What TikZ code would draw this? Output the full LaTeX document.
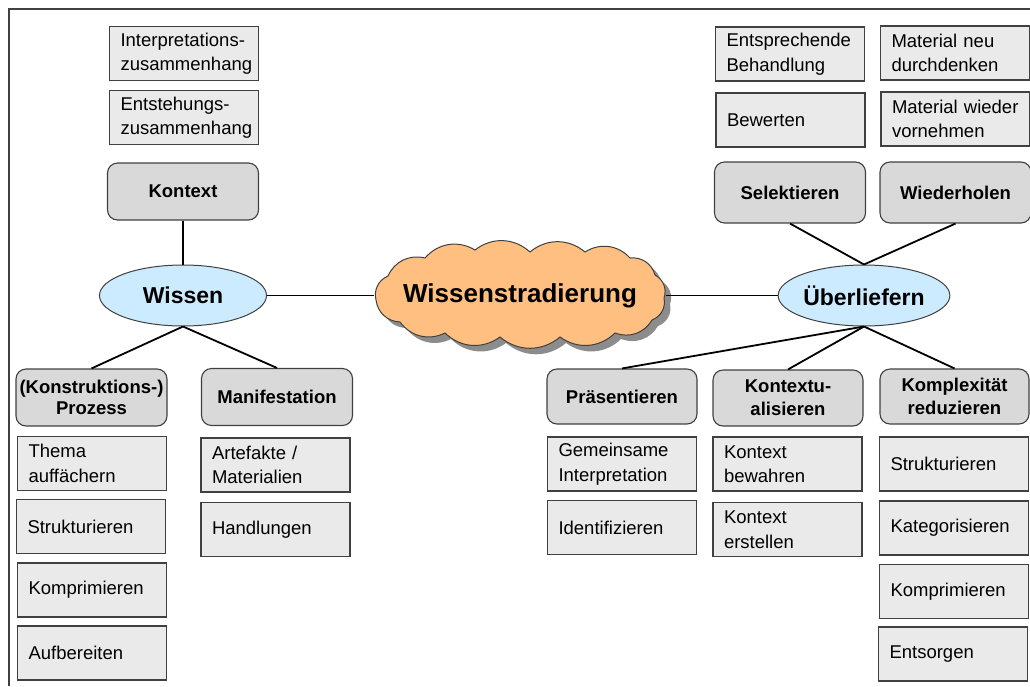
\documentclass[tikz,border=0pt]{standalone}
\usepackage{fontspec}
\setmainfont{Liberation Sans}
\usetikzlibrary{shapes.geometric}
\definecolor{leaffill}{HTML}{EAEAEA}
\definecolor{catfill}{HTML}{D9D9D9}
\definecolor{ellfill}{HTML}{CCEBFF}
\definecolor{cloudfill}{HTML}{FFBF80}
\definecolor{edgecol}{HTML}{404040}
\newcommand{\myCloudPath}{(376,300) to[bend left=40] (388,276) to[bend left=40] (425,258) to[bend left=40] (475,250) to[bend left=40] (530,252) to[bend left=40] (585,252) to[bend left=40] (630,258) to[bend left=40] (655,275) to[bend left=40] (664,298) to[bend left=40] (652,320) to[bend left=40] (615,333) to[bend left=40] (560,337) to[bend left=40] (500,337) to[bend left=40] (445,333) to[bend left=40] (400,322) to[bend left=40] cycle}
\begin{document}
\begin{tikzpicture}[x=1pt,y=-1pt,
  leaf/.style={draw=edgecol, line width=1.1pt, fill=leaffill, text width=127pt, inner xsep=11pt, inner ysep=0pt, align=left, minimum height=54pt, font=\fontsize{18.5}{24.5}\selectfont},
  cat/.style={draw=edgecol, line width=1.1pt, fill=catfill, rounded corners=10pt, minimum width=151pt, minimum height=57pt, inner sep=0pt, align=center, font=\fontsize{18.5}{23}\selectfont\bfseries},
  hub/.style={ellipse, draw=edgecol, line width=1pt, fill=ellfill, minimum width=167pt, minimum height=61pt, inner sep=0pt, font=\fontsize{23}{27}\selectfont\bfseries},
  link/.style={line width=1.8pt, black}]
\useasboundingbox (0,0) rectangle (1030,686);
\draw[line width=1.2pt, edgecol] (9,686) -- (9,9) -- (1030,9);

% centre cloud
\begin{scope}[shift={(6,6)}]
\fill[black!45] \myCloudPath;
\end{scope}
\draw[edgecol, line width=1pt, fill=cloudfill] \myCloudPath;
\node[rectangle, minimum width=292pt, minimum height=80pt, inner sep=0pt,
  font=\fontsize{26}{30}\selectfont\bfseries] (cloud) at (520,295.5) {Wissenstradierung};
\node[hub] (wissen) at (183,295.5) {Wissen};
\node[hub] (ueber) at (864,295.5) {Überliefern};

% left top
\node[leaf] (interp) at (184,53.5) {Interpretations-\\zusammenhang};
\node[leaf] (entst) at (184,117.5) {Entstehungs-\\zusammenhang};
\node[cat] (kontext) at (183,191.5) {Kontext};

% left bottom
\node[cat, font=\fontsize{18.5}{20.5}\selectfont\bfseries] (konstr) at (91.5,397.5) {(Konstruktions-)\\Prozess};
\node[cat] (manif) at (277,397) {Manifestation};
\node[leaf] (thema) at (92,463.5) {Thema\\auffächern};
\node[leaf] (struktl) at (91,526.5) {Strukturieren};
\node[leaf] (komprl) at (92,590) {Komprimieren};
\node[leaf] (aufber) at (92,653) {Aufbereiten};
\node[leaf] (artef) at (275.5,465) {Artefakte /\\Materialien};
\node[leaf] (handl) at (275.5,529.5) {Handlungen};

% right top
\node[leaf] (entspr) at (790,54) {Entsprechende\\Behandlung};
\node[leaf] (matneu) at (955,53) {Material neu\\durchdenken};
\node[leaf] (bewert) at (790.5,120) {Bewerten};
\node[leaf] (matwied) at (955.5,119) {Material wieder\\vornehmen};
\node[cat, minimum height=61pt] (selekt) at (790,192.5) {Selektieren};
\node[cat, minimum height=61pt] (wiederh) at (955.5,192.5) {Wiederholen};

% right bottom
\node[cat, minimum width=150pt, minimum height=55pt] (praes) at (622,396.5) {Präsentieren};
\node[cat, minimum width=150pt, minimum height=56pt] (kontextu) at (788,398) {Kontextu-\\alisieren};
\node[cat, minimum width=149pt, minimum height=55pt] (komplex) at (954.5,396.5) {Komplexität\\reduzieren};
\node[leaf] (gemein) at (622,464) {Gemeinsame\\Interpretation};
\node[leaf] (ident) at (622,527.5) {Identifizieren};
\node[leaf] (kbew) at (787.5,464) {Kontext\\bewahren};
\node[leaf] (kerst) at (787.5,529.5) {Kontext\\erstellen};
\node[leaf] (struktr) at (954,464) {Strukturieren};
\node[leaf] (kateg) at (954,528) {Kategorisieren};
\node[leaf] (komprr) at (954,591.5) {Komprimieren};
\node[leaf] (entsorg) at (953,654) {Entsorgen};

% connectors
\draw[link] (kontext.south) -- (wissen.north);
\draw[link] (wissen.east) -- (cloud.west);
\draw[link] (cloud.east) -- (ueber.west);
\draw[link] (wissen.south) -- (konstr.north);
\draw[link] (wissen.south) -- (manif.north);
\draw[link] (ueber.north) -- (selekt.south);
\draw[link] (ueber.north) -- (wiederh.south);
\draw[link] (ueber.south) -- (praes.north);
\draw[link] (ueber.south) -- (kontextu.north);
\draw[link] (ueber.south) -- (komplex.north);
\end{tikzpicture}
\end{document}
